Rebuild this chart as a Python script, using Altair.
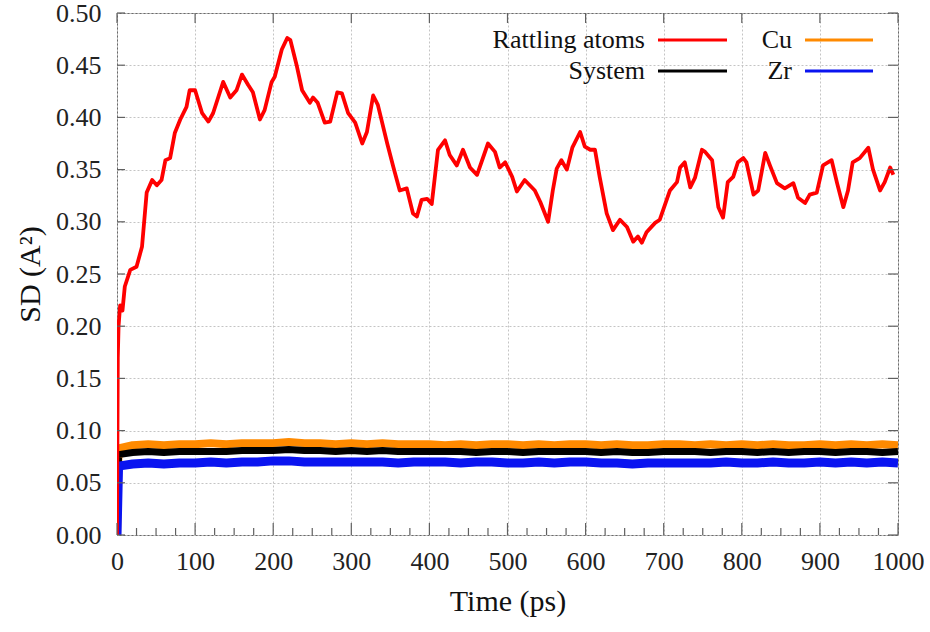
import altair as alt
import pandas as pd

# ---------------- data ----------------
red_t = [0, 1, 2, 4, 7, 10, 17, 25, 32, 38,
         45, 51, 57, 62, 68, 74, 81, 89, 93, 100,
         109, 117, 123, 136, 145, 153, 160, 168, 174, 183,
         189, 198, 202, 211, 218, 222, 230, 237, 247, 251,
         257, 266, 273, 282, 288, 296, 305, 314, 320, 328,
         334, 346, 354, 362, 371, 379, 384, 390, 397, 403,
         411, 420, 426, 435, 443, 452, 461, 475, 484, 490,
         497, 506, 512, 522, 535, 542, 552, 558, 563, 569,
         576, 583, 593, 599, 606, 612, 618, 627, 635, 644,
         653, 661, 667, 672, 678, 689, 695, 708, 717, 721,
         727, 734, 740, 749, 753, 762, 770, 776, 782, 789,
         795, 802, 806, 815, 821, 830, 836, 845, 855, 866,
         872, 881, 887, 896, 904, 915, 922, 930, 936, 942,
         951, 962, 968, 977, 983, 990, 994]
red_v = [0.0, 0.17, 0.20, 0.22, 0.215, 0.238, 0.254, 0.257, 0.276, 0.328,
         0.340, 0.335, 0.340, 0.359, 0.361, 0.385, 0.398, 0.410, 0.426, 0.426,
         0.404, 0.396, 0.404, 0.434, 0.419, 0.426, 0.441, 0.431, 0.424, 0.398,
         0.407, 0.434, 0.439, 0.465, 0.476, 0.474, 0.450, 0.426, 0.414, 0.419,
         0.414, 0.395, 0.396, 0.424, 0.423, 0.404, 0.395, 0.375, 0.386, 0.421,
         0.412, 0.375, 0.352, 0.330, 0.332, 0.308, 0.305, 0.321, 0.322, 0.317,
         0.369, 0.378, 0.364, 0.354, 0.369, 0.352, 0.345, 0.375, 0.367, 0.352,
         0.357, 0.343, 0.329, 0.340, 0.330, 0.319, 0.300, 0.330, 0.351, 0.359,
         0.350, 0.371, 0.386, 0.372, 0.369, 0.369, 0.343, 0.308, 0.292, 0.302,
         0.295, 0.281, 0.286, 0.280, 0.290, 0.299, 0.302, 0.330, 0.338, 0.352,
         0.357, 0.333, 0.342, 0.369, 0.367, 0.359, 0.314, 0.304, 0.338, 0.343,
         0.357, 0.361, 0.357, 0.326, 0.330, 0.366, 0.354, 0.337, 0.332, 0.337,
         0.323, 0.318, 0.326, 0.328, 0.354, 0.359, 0.337, 0.314, 0.330, 0.357,
         0.361, 0.371, 0.350, 0.330, 0.338, 0.352, 0.345]

band_t = [0, 2,
          20, 40, 60, 80, 100, 120, 140, 160, 180, 200,
          220, 240, 260, 280, 300, 320, 340, 360, 380, 400,
          420, 440, 460, 480, 500, 520, 540, 560, 580, 600,
          620, 640, 660, 680, 700, 720, 740, 760, 780, 800,
          820, 840, 860, 880, 900, 920, 940, 960, 980, 1000]
cu_v = [0.000, 0.083,
        0.086, 0.087, 0.086, 0.087, 0.087, 0.088, 0.087, 0.088, 0.088, 0.088,
        0.089, 0.088, 0.088, 0.087, 0.088, 0.087, 0.088, 0.087, 0.087, 0.087,
        0.086, 0.087, 0.086, 0.087, 0.087, 0.086, 0.087, 0.086, 0.087, 0.087,
        0.086, 0.087, 0.086, 0.086, 0.087, 0.087, 0.086, 0.087, 0.086, 0.087,
        0.086, 0.087, 0.086, 0.086, 0.087, 0.086, 0.087, 0.086, 0.087, 0.086]
sys_v = [0.000, 0.077,
         0.079, 0.080, 0.079, 0.080, 0.080, 0.080, 0.080, 0.081, 0.081, 0.081,
         0.082, 0.081, 0.081, 0.080, 0.081, 0.080, 0.081, 0.080, 0.080, 0.080,
         0.080, 0.080, 0.079, 0.080, 0.080, 0.079, 0.080, 0.080, 0.080, 0.080,
         0.079, 0.080, 0.079, 0.079, 0.080, 0.080, 0.080, 0.079, 0.080, 0.080,
         0.079, 0.080, 0.079, 0.080, 0.080, 0.079, 0.080, 0.080, 0.079, 0.080]
zr_v = [0.000, 0.066,
        0.068, 0.069, 0.068, 0.069, 0.069, 0.070, 0.069, 0.070, 0.070, 0.071,
        0.071, 0.070, 0.070, 0.070, 0.070, 0.070, 0.070, 0.069, 0.070, 0.070,
        0.070, 0.069, 0.070, 0.070, 0.069, 0.069, 0.070, 0.069, 0.070, 0.070,
        0.069, 0.069, 0.068, 0.069, 0.069, 0.069, 0.069, 0.069, 0.070, 0.069,
        0.069, 0.070, 0.069, 0.069, 0.070, 0.069, 0.070, 0.069, 0.070, 0.069]

x_major = [0, 100, 200, 300, 400, 500, 600, 700, 800, 900, 1000]
x_minor = [25, 50, 75, 125, 150, 175, 225, 250, 275, 325, 350, 375,
           425, 450, 475, 525, 550, 575, 625, 650, 675, 725, 750, 775,
           825, 850, 875, 925, 950, 975]
y_major = [0.0, 0.05, 0.10, 0.15, 0.20, 0.25, 0.30, 0.35, 0.40, 0.45, 0.50]

FONT = "Liberation Serif"
TICK_COLOR = "#606060"

red_df = pd.DataFrame({"t": red_t, "v": red_v})
cu_df = pd.DataFrame({"t": band_t, "v": cu_v})
sys_df = pd.DataFrame({"t": band_t, "v": sys_v})
zr_df = pd.DataFrame({"t": band_t, "v": zr_v})

xscale = alt.Scale(domain=[0, 1000], nice=False, zero=False)
yscale = alt.Scale(domain=[0, 0.5], nice=False, zero=False)

X = alt.X("t:Q", scale=xscale,
          axis=alt.Axis(values=x_major, title="Time (ps)", format="d",
                        labelFont=FONT, titleFont=FONT, labelFlush=False,
                        labelOverlap=False, labelBound=False,
                        labelPadding=13, titlePadding=12))
Y = alt.Y("v:Q", scale=yscale,
          axis=alt.Axis(values=y_major, title="SD (A²)", format=".2f",
                        labelFont=FONT, titleFont=FONT, labelFlush=False,
                        labelOverlap=False,
                        labelPadding=16, titlePadding=10))

def line(df, color, width):
    return alt.Chart(df).mark_line(color=color, strokeWidth=width,
                                   strokeJoin="round", clip=True).encode(
        x=alt.X("t:Q", scale=xscale), y=alt.Y("v:Q", scale=yscale))

base = alt.Chart(red_df).mark_line(opacity=0).encode(x=X, y=Y)

cu = line(cu_df, "#ff8a00", 8)
sysl = line(sys_df, "#000000", 7)
zr = line(zr_df, "#0a14f0", 9)
red = line(red_df, "#ff0000", 3.8)

# inward ticks drawn from the tick value lists
xmaj_df = pd.DataFrame({"t": x_major})
xmin_df = pd.DataFrame({"t": x_minor})
ymaj_df = pd.DataFrame({"v": y_major})

bot_major = alt.Chart(xmaj_df).mark_rule(color=TICK_COLOR, strokeWidth=1.2).encode(
    x=alt.X("t:Q", scale=xscale), y=alt.value(522), y2=alt.value(510))
bot_minor = alt.Chart(xmin_df).mark_rule(color=TICK_COLOR, strokeWidth=1.2).encode(
    x=alt.X("t:Q", scale=xscale), y=alt.value(522), y2=alt.value(515))
top_major = alt.Chart(xmaj_df).mark_rule(color=TICK_COLOR, strokeWidth=1.2).encode(
    x=alt.X("t:Q", scale=xscale), y=alt.value(0), y2=alt.value(10))
left_major = alt.Chart(ymaj_df).mark_rule(color=TICK_COLOR, strokeWidth=1.2).encode(
    y=alt.Y("v:Q", scale=yscale), x=alt.value(0), x2=alt.value(8))
right_major = alt.Chart(ymaj_df).mark_rule(color=TICK_COLOR, strokeWidth=1.2).encode(
    y=alt.Y("v:Q", scale=yscale), x=alt.value(781), x2=alt.value(771))

# legend (text right-aligned, sample line to its right)
legend_names = ["Rattling atoms", "System", "Cu", "Zr"]
legend_colors = ["#ff0000", "#000000", "#ff8a00", "#0a14f0"]
legend_layout = [(528, 27, 541, 610), (528, 58, 541, 610),
                 (675, 27, 688, 756), (675, 58, 688, 756)]
legend_layers = []
for name, col, (tx, ty, l1, l2) in zip(legend_names, legend_colors, legend_layout):
    ldf = pd.DataFrame({"label": [name]})
    legend_layers.append(
        alt.Chart(ldf).mark_text(align="right", baseline="middle", font=FONT,
                                 fontSize=26, color="#111").encode(
            text="label:N", x=alt.value(tx), y=alt.value(ty)))
    legend_layers.append(
        alt.Chart(ldf).mark_rule(color=col, strokeWidth=3).encode(
            x=alt.value(l1), x2=alt.value(l2), y=alt.value(ty)))

chart = alt.layer(base, cu, sysl, zr, red,
                  bot_major, bot_minor, top_major, left_major, right_major,
                  *legend_layers).properties(
    width=781, height=522,
    autosize=alt.AutoSizeParams(type="none"),
    padding={"left": 117, "top": 13, "right": 32, "bottom": 97},
    background="white",
).configure(
    font=FONT
).configure_text(
    font=FONT
).configure_view(
    stroke="#6a6a6a", strokeWidth=1
).configure_axis(
    labelFont=FONT, labelFontSize=26, labelColor="#222",
    titleFont=FONT, titleFontSize=30, titleFontWeight="normal", titleColor="#111",
    domain=False, ticks=False,
    grid=True, gridColor="#c4c4c4", gridDash=[2, 2], gridWidth=1,
)

chart.save("out.html", embed_options={"renderer": "svg", "actions": False})
